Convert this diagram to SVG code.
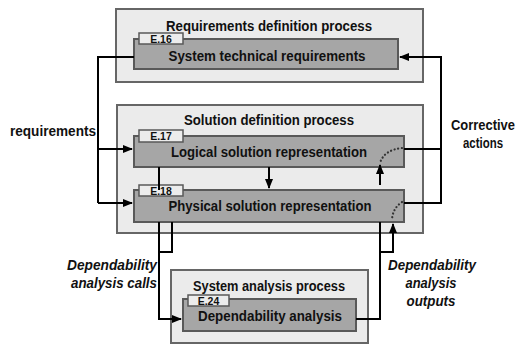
<svg xmlns="http://www.w3.org/2000/svg" width="519" height="345" viewBox="0 0 519 345">
<defs>
<style>
.outer{fill:#ebebeb;stroke:#666;stroke-width:2}
.inner{fill:#a6a6a6;stroke:#595959;stroke-width:2}
.tag{fill:#ececec;stroke:#595959;stroke-width:1.5}
.t{font-family:"Liberation Sans",Arial,sans-serif;font-weight:bold;font-size:14px;fill:#111;text-anchor:middle}
.tg{font-family:"Liberation Sans",Arial,sans-serif;font-weight:bold;font-size:10.5px;fill:#111;text-anchor:middle}
.it{font-family:"Liberation Sans",Arial,sans-serif;font-weight:bold;font-style:italic;font-size:14px;fill:#111;text-anchor:middle}
.ln{fill:none;stroke:#000;stroke-width:2}
.dot{fill:none;stroke:#333;stroke-width:2.2;stroke-dasharray:0.1 3.6;stroke-linecap:round}
</style>
<marker id="ah" viewBox="0 0 10 10" refX="9" refY="5" markerWidth="5" markerHeight="5" orient="auto-start-reverse" markerUnits="strokeWidth">
<path d="M0,1 L10,5 L0,9 z" fill="#000"/>
</marker>
</defs>

<g id="req-process">
<rect class="outer" x="116" y="9" width="307" height="73"/>
<text class="t" x="269" y="31" textLength="206" lengthAdjust="spacingAndGlyphs">Requirements definition process</text>
</g>
<g id="E16">
<rect class="inner" x="134" y="39" width="264" height="30"/>
<rect class="tag" x="139" y="33" width="44" height="11"/>
<text class="tg" x="161" y="42.5">E.16</text>
<text class="t" x="267" y="61" textLength="197" lengthAdjust="spacingAndGlyphs">System technical requirements</text>
</g>

<g id="sol-process">
<rect class="outer" x="117" y="105" width="306" height="128"/>
<text class="t" x="269" y="125" textLength="170" lengthAdjust="spacingAndGlyphs">Solution definition process</text>
</g>
<g id="E17">
<rect class="inner" x="134" y="136" width="270" height="31"/>
<rect class="tag" x="139" y="130" width="44" height="12"/>
<text class="tg" x="161" y="140">E.17</text>
<text class="t" x="269" y="157" textLength="196" lengthAdjust="spacingAndGlyphs">Logical solution representation</text>
<path class="dot" d="M402,148 Q384,150 380,163"/>
</g>
<g id="E18">
<rect class="inner" x="134" y="190" width="270" height="32"/>
<rect class="tag" x="139" y="185" width="44" height="11"/>
<text class="tg" x="161" y="194.5">E.18</text>
<text class="t" x="270" y="211" textLength="203" lengthAdjust="spacingAndGlyphs">Physical solution representation</text>
<path class="dot" d="M402,202 Q393,208 392,219"/>
</g>

<g id="sys-process">
<rect class="outer" x="171" y="270" width="197" height="73"/>
<text class="t" x="269" y="291" textLength="152" lengthAdjust="spacingAndGlyphs">System analysis process</text>
</g>
<g id="E24">
<rect class="inner" x="183" y="299" width="173" height="32"/>
<rect class="tag" x="188" y="295" width="41" height="11"/>
<text class="tg" x="208.5" y="304.5">E.24</text>
<text class="t" x="270" y="321" textLength="144" lengthAdjust="spacingAndGlyphs">Dependability analysis</text>
</g>

<g id="labels">
<text class="t" x="53" y="136" textLength="86" lengthAdjust="spacingAndGlyphs">requirements</text>
<text class="t" x="483" y="130" textLength="64" lengthAdjust="spacingAndGlyphs">Corrective</text>
<text class="t" x="483" y="148" textLength="40" lengthAdjust="spacingAndGlyphs">actions</text>
<text class="it" x="112" y="270" textLength="90" lengthAdjust="spacingAndGlyphs">Dependability</text>
<text class="it" x="114" y="288" textLength="86" lengthAdjust="spacingAndGlyphs">analysis calls</text>
<text class="it" x="432" y="270" textLength="88" lengthAdjust="spacingAndGlyphs">Dependability</text>
<text class="it" x="431" y="288" textLength="51" lengthAdjust="spacingAndGlyphs">analysis</text>
<text class="it" x="431" y="306" textLength="49" lengthAdjust="spacingAndGlyphs">outputs</text>
</g>

<g id="connectors">
<path class="ln" d="M134,57 H98 V203"/>
<path class="ln" d="M98,149 H132" marker-end="url(#ah)"/>
<path class="ln" d="M98,203 H132" marker-end="url(#ah)"/>
<path class="ln" d="M404,149 H441 V57 H400" marker-end="url(#ah)"/>
<path class="ln" d="M404,203 H441 V149"/>
<path class="ln" d="M159,167 V190"/>
<path class="ln" d="M269,167 V188" marker-end="url(#ah)"/>
<path class="ln" d="M380,185 V165" marker-end="url(#ah)"/>
<path class="ln" d="M172,222 V252 H159"/>
<path class="ln" d="M159,222 V319 H181" marker-end="url(#ah)"/>
<path class="ln" d="M356,319 H380 V222"/>
<path class="ln" d="M380,252 H393 V224" marker-end="url(#ah)"/>
</g>
</svg>
